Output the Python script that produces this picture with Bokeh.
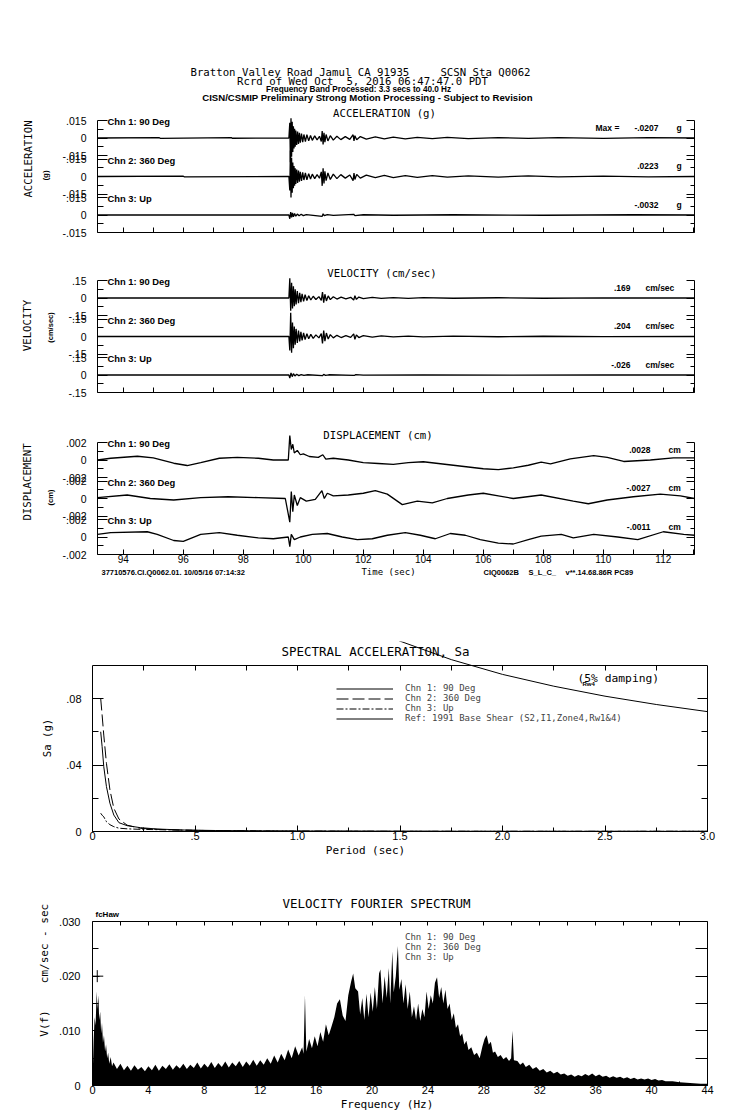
from math import pi
from bokeh.plotting import figure
from bokeh.models import Range1d, LinearAxis, FixedTicker, Label, Legend, LegendItem, ColumnDataSource
from bokeh.layouts import column, row
from bokeh.transform import dodge
from bokeh.embed import file_html
from bokeh.resources import INLINE

# ------------------------------------------------------------------ data
t_start, t_end = 93.14, 113.04
time_major = [94, 96, 98, 100, 102, 104, 106, 108, 110, 112]
time_minor = [93, 95, 97, 99, 101, 103, 105, 107, 109, 111, 113]

channel_names = ["Chn 1: 90 Deg", "Chn 2: 360 Deg", "Chn 3: Up"]
acc_peaks = ["-.0207", ".0223", "-.0032"]
vel_peaks = [".169", ".204", "-.026"]
disp_peaks = [".0028", "-.0027", "-.0011"]

# (time sec, acceleration g)
acc_chn1 = [(93.14, 0.0), (95.20, 0.0003), (95.23, -0.0003), (97.60, 0.0003), (97.63, -0.0002), (99.52, 0.0),
            (99.55, 0.013), (99.57, -0.0207), (99.59, 0.017), (99.61, -0.016), (99.63, 0.014), (99.65, -0.012),
            (99.67, 0.010), (99.69, -0.009), (99.71, 0.008), (99.73, -0.0075), (99.75, 0.0065), (99.78, -0.006),
            (99.81, 0.0055), (99.84, -0.005), (99.87, 0.0045), (99.90, -0.004), (99.94, 0.0038), (99.98, -0.0035),
            (100.02, 0.003), (100.07, -0.003), (100.12, 0.0028), (100.18, -0.0025), (100.24, 0.0022), (100.30, -0.002),
            (100.38, 0.0018), (100.46, -0.0016), (100.54, 0.0015), (100.60, -0.003), (100.63, 0.006), (100.66, -0.0055),
            (100.69, 0.0045), (100.72, -0.0035), (100.76, 0.003), (100.82, -0.0025), (100.90, 0.002), (101.00, -0.0018),
            (101.12, 0.0015), (101.25, -0.0014), (101.40, 0.0012), (101.55, -0.0012), (101.66, 0.0028), (101.69, -0.0025),
            (101.72, 0.002), (101.78, -0.0015), (101.90, 0.0012), (102.10, -0.001), (102.40, 0.0009), (102.70, -0.0008),
            (103.00, 0.0008), (103.40, -0.0007), (103.80, 0.0006), (104.30, -0.0006), (104.80, 0.0005), (105.50, -0.0005),
            (106.50, 0.0004), (107.50, -0.0004), (108.50, 0.0004), (110.00, -0.0003), (111.50, 0.0003), (113.04, 0.0)]
acc_chn2 = [(93.14, 0.0), (96.00, 0.0003), (96.03, -0.0003), (99.52, 0.0), (99.55, -0.012), (99.57, 0.0223),
            (99.59, -0.018), (99.61, 0.016), (99.63, -0.014), (99.65, 0.012), (99.67, -0.010), (99.69, 0.009),
            (99.71, -0.008), (99.73, 0.007), (99.75, -0.0065), (99.78, 0.006), (99.81, -0.0055), (99.84, 0.005),
            (99.87, -0.0045), (99.90, 0.004), (99.94, -0.0038), (99.98, 0.0035), (100.02, -0.003), (100.07, 0.003),
            (100.12, -0.0028), (100.18, 0.0025), (100.24, -0.0022), (100.30, 0.002), (100.38, -0.0018), (100.46, 0.0016),
            (100.54, -0.0015), (100.60, 0.004), (100.63, -0.008), (100.66, 0.007), (100.69, -0.006), (100.72, 0.0045),
            (100.76, -0.0035), (100.82, 0.003), (100.90, -0.0025), (101.00, 0.002), (101.12, -0.0018), (101.25, 0.0016),
            (101.40, -0.0014), (101.55, 0.0013), (101.66, -0.0035), (101.69, 0.003), (101.72, -0.0025), (101.78, 0.0018),
            (101.90, -0.0014), (102.10, 0.0012), (102.40, -0.001), (102.70, 0.001), (103.00, -0.0009), (103.40, 0.0008),
            (103.80, -0.0008), (104.30, 0.0007), (104.80, -0.0006), (105.50, 0.0006), (106.50, -0.0005), (107.50, 0.0005),
            (108.50, -0.0004), (110.00, 0.0004), (111.50, -0.0003), (113.04, 0.0)]
acc_chn3 = [(93.14, 0.0), (99.52, 0.0), (99.55, -0.0032), (99.58, 0.0025), (99.61, -0.002), (99.64, 0.0018),
            (99.67, -0.0015), (99.71, 0.0012), (99.75, -0.001), (99.80, 0.0008), (99.86, -0.0007), (99.93, 0.0006),
            (100.00, -0.0005), (100.10, 0.0004), (100.63, -0.0012), (100.66, 0.001), (100.70, -0.0006), (100.80, 0.0004),
            (101.00, -0.0003), (101.68, 0.0006), (101.72, -0.0005), (102.00, 0.0002), (103.00, -0.0002), (105.00, 0.0002),
            (108.00, -0.0002), (111.00, 0.0002), (113.04, 0.0)]

# (time sec, velocity cm/sec)
vel_chn1 = [(93.14, 0.0), (99.52, 0.0), (99.55, 0.169), (99.58, -0.11), (99.61, 0.13), (99.64, -0.09), (99.67, 0.10),
            (99.70, -0.07), (99.73, 0.075), (99.76, -0.055), (99.80, 0.06), (99.84, -0.045), (99.88, 0.045),
            (99.92, -0.035), (99.96, 0.035), (100.01, -0.028), (100.06, 0.028), (100.12, -0.022), (100.18, 0.02),
            (100.25, -0.017), (100.33, 0.015), (100.42, -0.013), (100.52, 0.012), (100.60, -0.02), (100.64, 0.05),
            (100.68, -0.04), (100.72, 0.032), (100.77, -0.025), (100.83, 0.018), (100.90, -0.014), (101.00, 0.011),
            (101.12, -0.009), (101.26, 0.008), (101.42, -0.007), (101.58, 0.006), (101.68, -0.018), (101.72, 0.02),
            (101.77, -0.012), (101.85, 0.008), (102.00, -0.006), (102.30, 0.005), (102.60, -0.004), (103.00, 0.004),
            (103.50, -0.003), (104.00, 0.003), (105.00, -0.002), (106.50, 0.002), (108.00, -0.002), (110.00, 0.001),
            (113.04, 0.0)]
vel_chn2 = [(93.14, 0.0), (99.52, 0.0), (99.55, -0.12), (99.58, 0.204), (99.61, -0.14), (99.64, 0.12), (99.67, -0.10),
            (99.70, 0.085), (99.73, -0.07), (99.76, 0.065), (99.80, -0.055), (99.84, 0.05), (99.88, -0.042),
            (99.92, 0.04), (99.96, -0.034), (100.01, 0.03), (100.06, -0.026), (100.12, 0.024), (100.18, -0.02),
            (100.25, 0.018), (100.33, -0.016), (100.42, 0.014), (100.52, -0.012), (100.60, 0.025), (100.64, -0.06),
            (100.68, 0.05), (100.72, -0.04), (100.77, 0.03), (100.83, -0.022), (100.90, 0.016), (101.00, -0.012),
            (101.12, 0.01), (101.26, -0.009), (101.42, 0.008), (101.58, -0.007), (101.68, 0.022), (101.72, -0.024),
            (101.77, 0.014), (101.85, -0.009), (102.00, 0.007), (102.30, -0.006), (102.60, 0.005), (103.00, -0.004),
            (103.50, 0.004), (104.00, -0.003), (105.00, 0.003), (106.50, -0.002), (108.00, 0.002), (110.00, -0.001),
            (113.04, 0.0)]
vel_chn3 = [(93.14, 0.0), (99.52, 0.0), (99.55, -0.026), (99.59, 0.018), (99.63, -0.014), (99.67, 0.011),
            (99.72, -0.008), (99.78, 0.006), (99.85, -0.005), (99.93, 0.004), (100.02, -0.003), (100.15, 0.002),
            (100.64, -0.006), (100.68, 0.005), (100.74, -0.003), (100.85, 0.002), (101.70, -0.004), (101.75, 0.003),
            (102.00, -0.001), (104.00, 0.001), (107.00, -0.001), (110.00, 0.001), (113.04, 0.0)]

# (time sec, displacement cm)
disp_chn1 = [(93.14, 0.0), (93.58, 0.0002), (94.47, 0.00043), (95.00, 0.00025), (95.68, -0.00037), (96.13, -0.00063),
             (96.58, -0.0003), (97.20, 0.0002), (97.80, 0.0003), (98.50, 0.0002), (99.00, 0.0), (99.50, 0.0),
             (99.55, 0.0028), (99.60, 0.0012), (99.65, 0.0018), (99.70, 0.0008), (99.80, 0.0011), (99.90, 0.0006),
             (100.00, 0.0007), (100.20, 0.0004), (100.50, 0.0003), (100.65, 0.0006), (100.75, 0.0001), (101.00, 0.0002),
             (101.50, 0.0), (102.00, -0.0003), (102.50, -0.0004), (103.00, -0.0005), (103.50, -0.0003), (104.00, -0.0002),
             (104.50, -0.0004), (105.00, -0.0006), (105.50, -0.0008), (106.00, -0.0010), (106.50, -0.0011),
             (107.00, -0.0009), (107.50, -0.0006), (107.93, -0.00025), (108.24, -0.00044), (108.90, 0.00014),
             (109.68, 0.0005), (110.13, 0.0003), (110.68, -0.00017), (111.57, 0.0), (112.34, 0.00025), (113.04, 0.00025)]
disp_chn2 = [(93.14, 0.0001), (94.13, 0.0004), (94.90, 0.0), (95.68, -0.00017), (96.58, 0.0001), (97.50, 0.0002),
             (98.50, 0.0001), (99.40, 0.0), (99.55, -0.0027), (99.60, 0.0008), (99.65, -0.0015), (99.70, 0.0004),
             (99.80, -0.0008), (99.90, 0.0001), (100.10, -0.0003), (100.40, -0.0001), (100.62, 0.0009), (100.70, 0.0),
             (100.80, 0.0006), (101.00, 0.0003), (101.50, 0.0004), (102.00, 0.0006), (102.40, 0.0009), (102.80, 0.0005),
             (103.30, -0.0007), (103.80, -0.0003), (104.30, -0.0005), (104.80, 0.0), (105.50, 0.0004), (106.00, 0.0006),
             (106.50, 0.0003), (107.00, 0.0), (107.93, 0.0004), (109.00, -0.0003), (109.50, -0.0006), (110.13, -0.00017),
             (111.00, 0.0002), (111.90, 0.0005), (112.57, 0.0003), (113.04, 0.0)]
disp_chn3 = [(93.14, 0.0003), (93.58, 0.0005), (94.80, 0.0006), (95.13, 0.0003), (95.68, -0.0004), (96.00, -0.0005),
             (96.58, 0.0003), (97.20, 0.0005), (97.80, 0.0002), (98.50, -0.0001), (99.00, -0.0002), (99.50, 0.0),
             (99.55, -0.0011), (99.60, 0.0003), (99.70, -0.0003), (99.90, 0.0), (100.30, 0.0003), (100.80, 0.0004),
             (101.30, 0.0), (101.80, -0.0003), (102.30, -0.0002), (102.80, 0.0002), (103.40, 0.0005), (103.90, 0.0002),
             (104.40, -0.0002), (104.90, 0.0004), (105.40, 0.0002), (105.90, -0.0003), (106.50, -0.0007),
             (107.00, -0.0008), (107.50, -0.0003), (107.93, 0.0001), (108.60, 0.0003), (109.00, -0.0001),
             (109.68, 0.0003), (110.48, 0.0), (111.15, -0.0003), (112.00, 0.0006), (112.68, 0.0003), (113.04, 0.0002)]

# spectral acceleration (period sec -> Sa g)
sa_period = [0.04, 0.047, 0.055, 0.068, 0.085, 0.104, 0.129, 0.169, 0.234, 0.315, 0.44, 0.60, 0.80, 1.0, 1.5, 2.0, 2.5, 3.0]
sa_chn1 = [0.060, 0.051, 0.039, 0.027, 0.017, 0.0099, 0.0053, 0.0035, 0.0023, 0.0015, 0.0009, 0.0006, 0.0004, 0.0003,
           0.0002, 0.0001, 0.0001, 0.0001]
sa_chn2 = [0.080, 0.070, 0.058, 0.041, 0.025, 0.014, 0.0075, 0.0038, 0.0019, 0.0013, 0.0008, 0.0005, 0.0003, 0.0002,
           0.0001, 0.0001, 0.0001, 0.0001]
sa_chn3 = [0.011, 0.0098, 0.0088, 0.0059, 0.0041, 0.0029, 0.0020, 0.0016, 0.0013, 0.0011, 0.0008, 0.0005, 0.0003,
           0.0002, 0.0001, 0.0001, 0.0001, 0.0001]
ref_period = [1.40, 1.50, 1.75, 2.00, 2.25, 2.50, 2.75, 3.00]
ref_sa = [0.1199, 0.1145, 0.1034, 0.0945, 0.0874, 0.0814, 0.0764, 0.0721]
sa_x_ticks = [0, 0.5, 1.0, 1.5, 2.0, 2.5, 3.0]
sa_x_labels = ["0", ".5", "1.0", "1.5", "2.0", "2.5", "3.0"]
sa_y_ticks = [0, 0.04, 0.08]
sa_y_labels = ["0", ".04", ".08"]

# velocity Fourier spectrum: upper envelope of the three overlapping channels (Hz, cm/sec-sec)
fourier_envelope = [
    (0.0, 0.0005), (0.08, 0.008), (0.15, 0.0125), (0.22, 0.0110), (0.3, 0.0172), (0.36, 0.0140), (0.42, 0.0165),
    (0.48, 0.0120), (0.55, 0.0135), (0.62, 0.0095), (0.68, 0.0115), (0.75, 0.0078), (0.82, 0.0092), (0.9, 0.0062),
    (0.97, 0.0075), (1.05, 0.0050), (1.12, 0.0060), (1.2, 0.0040), (1.3, 0.0052), (1.4, 0.0035),
    (1.50, 0.0042), (1.75, 0.0030), (2.00, 0.0040), (2.25, 0.0028), (2.50, 0.0036), (2.75, 0.0027), (3.00, 0.0037),
    (3.25, 0.0029), (3.50, 0.0034), (3.75, 0.0026), (4.00, 0.0035), (4.25, 0.0028), (4.50, 0.0038), (4.75, 0.0027),
    (5.00, 0.0036), (5.25, 0.0030), (5.50, 0.0039), (5.75, 0.0029), (6.00, 0.0037), (6.25, 0.0031), (6.50, 0.0040),
    (6.75, 0.0030), (7.00, 0.0038), (7.25, 0.0032), (7.50, 0.0042), (7.75, 0.0031), (8.00, 0.0040), (8.25, 0.0033),
    (8.50, 0.0043), (8.75, 0.0032), (9.00, 0.0041), (9.25, 0.0034), (9.50, 0.0044), (9.75, 0.0033), (10.0, 0.0042),
    (10.25, 0.0035), (10.5, 0.0045), (10.75, 0.0034), (11.0, 0.0044), (11.25, 0.0036), (11.5, 0.0047),
    (11.75, 0.0036), (12.0, 0.0046), (12.25, 0.0038), (12.5, 0.0050), (12.75, 0.0040), (13.0, 0.0055),
    (13.25, 0.0042), (13.5, 0.0058), (13.75, 0.0046), (14.0, 0.0066), (14.25, 0.0050), (14.5, 0.0072),
    (14.75, 0.0055), (15.0, 0.0070), (15.1, 0.0058), (15.2, 0.0165), (15.3, 0.0062), (15.5, 0.0085), (15.7, 0.0068),
    (15.9, 0.0090), (16.1, 0.0072), (16.3, 0.0098), (16.5, 0.0080), (16.7, 0.0112), (16.9, 0.0092), (17.1, 0.0108),
    (17.3, 0.0125), (17.5, 0.0150), (17.7, 0.0158), (17.9, 0.0128), (18.1, 0.0118), (18.3, 0.0165), (18.5, 0.0190),
    (18.65, 0.0205), (18.8, 0.0178), (19.0, 0.0172), (19.15, 0.0130), (19.3, 0.0160), (19.45, 0.0120),
    (19.6, 0.0168), (19.75, 0.0125), (19.9, 0.0170), (20.05, 0.0135), (20.2, 0.0180), (20.35, 0.0140),
    (20.5, 0.0205), (20.6, 0.0212), (20.75, 0.0150), (20.9, 0.0200), (21.05, 0.0160), (21.2, 0.0215),
    (21.3, 0.0150), (21.45, 0.0245), (21.55, 0.0170), (21.7, 0.0200), (21.85, 0.0255), (21.95, 0.0175),
    (22.1, 0.0195), (22.25, 0.0150), (22.4, 0.0185), (22.55, 0.0140), (22.7, 0.0172), (22.85, 0.0125),
    (23.0, 0.0145), (23.15, 0.0120), (23.3, 0.0150), (23.45, 0.0118), (23.6, 0.0140), (23.75, 0.0125),
    (23.9, 0.0172), (24.05, 0.0140), (24.2, 0.0165), (24.35, 0.0150), (24.5, 0.0188), (24.65, 0.0198),
    (24.8, 0.0160), (24.95, 0.0180), (25.1, 0.0150), (25.25, 0.0175), (25.4, 0.0140), (25.55, 0.0150),
    (25.7, 0.0120), (25.85, 0.0132), (26.0, 0.0105), (26.15, 0.0112), (26.3, 0.0090), (26.45, 0.0095),
    (26.6, 0.0075), (26.75, 0.0082), (26.9, 0.0065), (27.1, 0.0070), (27.3, 0.0056), (27.5, 0.0060),
    (27.7, 0.0050), (27.9, 0.0072), (28.05, 0.0085), (28.2, 0.0092), (28.35, 0.0075), (28.5, 0.0080),
    (28.65, 0.0060), (28.8, 0.0062), (29.0, 0.0052), (29.2, 0.0056), (29.4, 0.0048), (29.6, 0.0052),
    (29.8, 0.0045), (29.95, 0.0050), (30.05, 0.0100), (30.15, 0.0046), (30.4, 0.0045), (30.6, 0.0038),
    (30.8, 0.0042), (31.0, 0.0034), (31.25, 0.0038), (31.5, 0.0030), (31.75, 0.0034), (32.0, 0.0027),
    (32.25, 0.0030), (32.5, 0.0024), (32.75, 0.0027), (33.0, 0.0022), (33.25, 0.0025), (33.5, 0.0020),
    (33.75, 0.0022), (34.0, 0.0018), (34.25, 0.0020), (34.5, 0.0016), (34.75, 0.0019), (35.0, 0.0017),
    (35.25, 0.0021), (35.5, 0.0018), (35.75, 0.0022), (36.0, 0.0017), (36.25, 0.0020), (36.5, 0.0016),
    (36.75, 0.0018), (37.0, 0.0014), (37.25, 0.0017), (37.5, 0.0014), (37.75, 0.0016), (38.0, 0.0013),
    (38.25, 0.0015), (38.5, 0.0012), (38.75, 0.0014), (39.0, 0.0011), (39.25, 0.0013), (39.5, 0.0011),
    (39.75, 0.0013), (40.0, 0.0010), (40.25, 0.0012), (40.5, 0.0009), (40.75, 0.0010), (41.0, 0.0008),
    (41.5, 0.0008), (42.0, 0.0006), (42.5, 0.0005), (43.0, 0.0004), (43.5, 0.0003), (44.0, 0.0003)]
fc_marker_f = [0.34]
fc_marker_v = [0.020]
fs_x_major = [0, 4, 8, 12, 16, 20, 24, 28, 32, 36, 40, 44]
fs_x_minor = [2, 6, 10, 14, 18, 22, 26, 30, 34, 38, 42]
fs_y_ticks = [0, 0.01, 0.02, 0.03]
fs_y_labels = ["0", ".010", ".020", ".030"]
fs_y_minor = [0.005, 0.015, 0.025]

# ------------------------------------------------------------------ helpers
PAGE_W = 737
STRIP_W = 58
FIG_W = PAGE_W - STRIP_W
MONO = "DejaVu Sans Mono"
SANS = "Liberation Sans"
TRACE_W = 1.3


def lab(p, m, x, y, text, size, font=MONO, style="normal", align="left", baseline="middle", angle=0.0):
    """x, y: page pixel positions, converted to frame-relative screen units."""
    p.add_layout(Label(x=x - m["left"], y=m["bottom"] - y, x_units="screen", y_units="screen", text=text,
                       text_font=font, text_font_size=size, text_font_style=style, text_align=align,
                       text_baseline=baseline, angle=angle, text_color="black"))


def strip(left, top, w, h, tb=0, bb=0):
    """text-only panel; tb/bb match the borders of the plot it sits next to in a row."""
    p = figure(width=w, height=h, x_range=Range1d(0, w), y_range=Range1d(0, h - tb - bb), output_backend="svg",
               toolbar_location=None, min_border_left=0, min_border_right=0, min_border_top=tb,
               min_border_bottom=bb, x_axis_location=None, y_axis_location=None)
    p.outline_line_color = None
    p.grid.visible = False
    return p, {"left": left, "bottom": top + h - bb}


def style_axis(ax, tick_in, minor_in, labels=True, size="10.5px", standoff=11):
    ax.major_tick_in = tick_in
    ax.major_tick_out = 0
    ax.minor_tick_in = minor_in
    ax.minor_tick_out = 0
    ax.axis_line_color = "black"
    ax.major_tick_line_color = "black"
    ax.minor_tick_line_color = "black"
    ax.major_label_text_font = SANS
    if labels:
        ax.major_label_standoff = standoff
        ax.major_label_text_font_size = size
        ax.major_label_text_color = "black"
    else:
        ax.major_label_standoff = 0
        ax.major_label_text_font_size = "1px"
        ax.major_label_text_color = None


def series_fig(top, ch1_top, bot_b, half, tick_txt, traces, show_time_labels):
    """three stacked channels sharing one frame; frame starts at the section top."""
    k = half / 17.5                      # data units per pixel
    offs = [0.0, -38.5 * k, -77.0 * k]   # channel zero lines
    lo = offs[2] - half
    hi = half + (ch1_top - top) * k
    height = (ch1_top + 112 - top) + bot_b
    p = figure(width=FIG_W, height=height, x_range=Range1d(t_start, t_end), y_range=Range1d(lo, hi),
               output_backend="svg", toolbar_location=None, min_border_left=97 - STRIP_W,
               min_border_right=PAGE_W - 694, min_border_top=0, min_border_bottom=bot_b,
               x_axis_location="below", y_axis_location=None)
    p.outline_line_color = None
    p.grid.visible = False
    m = {"left": 97, "bottom": top + height - bot_b}
    ticks, minor, over = [], [], {}
    for o in offs:
        ticks += [o + half, o, o - half]
        minor += [o + half / 2, o - half / 2]
        over[o + half] = tick_txt[0]
        over[o] = "0"
        over[o - half] = tick_txt[1]
    la = LinearAxis(bounds=(lo, half), ticker=FixedTicker(ticks=ticks, minor_ticks=minor),
                    major_label_overrides=over)
    style_axis(la, 10, 6)
    p.add_layout(la, "left")
    ra = LinearAxis(bounds=(lo, half), ticker=FixedTicker(ticks=ticks, minor_ticks=minor))
    style_axis(ra, 8, 4, labels=False)
    p.add_layout(ra, "right")
    xa = p.xaxis[0]
    xa.ticker = FixedTicker(ticks=time_major, minor_ticks=time_minor)
    style_axis(xa, 5, 5, labels=show_time_labels, size="10px", standoff=0)
    for o, data in zip(offs, traces):
        src = ColumnDataSource(dict(t=[a for a, b in data], v=[b for a, b in data]))
        p.line("t", dodge("v", o), source=src, line_color="black", line_width=TRACE_W)
    zeros = [ch1_top + 17.5 + 38.5 * i for i in range(3)]
    for i, name in enumerate(channel_names):
        lab(p, m, 107, zeros[i] - 16.5, name, "9.4px", SANS, "bold")
    return p, m, zeros, height


# ------------------------------------------------------------------ acceleration (page y 0-254)
ACC_BB = 22
acc, am, az, acc_h = series_fig(0, 120, ACC_BB, 0.015, (".015", "-.015"), [acc_chn1, acc_chn2, acc_chn3], False)
lab(acc, am, 190, 71.7, "Bratton Valley Road Jamul CA 91935", "10.7px")
lab(acc, am, 530, 71.7, "SCSN Sta Q0062", "10.7px", align="right")
lab(acc, am, 362, 80.7, "Rcrd of Wed Oct\u00a0 5, 2016 06:47:47.0 PDT", "10.7px", align="center")
lab(acc, am, 358, 89.3, "Frequency Band Processed: 3.3 secs to 40.0 Hz", "8.2px", SANS, "bold", align="center")
lab(acc, am, 367, 97.0, "CISN/CSMIP Preliminary Strong Motion Processing - Subject to Revision", "9.6px", SANS,
    "bold", align="center")
lab(acc, am, 384, 113, "ACCELERATION (g)", "10.7px", align="center")
lab(acc, am, 595, az[0] - 10.5, "Max =", "8.5px", SANS, "bold")
for i in range(3):
    lab(acc, am, 658, az[i] - 10.5, acc_peaks[i], "8.5px", SANS, "bold", align="right")
    lab(acc, am, 676, az[i] - 10.5, "g", "8.5px", SANS, "bold")
acc_side, asm = strip(0, 0, STRIP_W, acc_h, 0, ACC_BB)
lab(acc_side, asm, 28, 158.5, "ACCELERATION", "10.7px", align="center", angle=pi / 2)
lab(acc_side, asm, 45, 175, "(g)", "8px", SANS, "bold", align="center", angle=pi / 2)

# ------------------------------------------------------------------ velocity (page y 254-415)
VEL_BB = 23
vel, vm, vz, vel_h = series_fig(254, 280, VEL_BB, 0.15, (".15", "-.15"), [vel_chn1, vel_chn2, vel_chn3], False)
lab(vel, vm, 381.5, 273, "VELOCITY (cm/sec)", "10.7px", align="center")
for i in range(3):
    lab(vel, vm, 630, vz[i] - 10.5, vel_peaks[i], "8.5px", SANS, "bold", align="right")
    lab(vel, vm, 645, vz[i] - 10.5, "cm/sec", "8.5px", SANS, "bold")
vel_side, vsm = strip(0, 254, STRIP_W, vel_h, 0, VEL_BB)
lab(vel_side, vsm, 27, 325, "VELOCITY", "10.7px", align="center", angle=pi / 2)
lab(vel_side, vsm, 50, 327, "(cm/sec)", "7.5px", SANS, "bold", align="center", angle=pi / 2)

# ------------------------------------------------------------------ displacement (page y 415-566)
DSP_BB = 12
dsp, dm, dz, dsp_h = series_fig(415, 442, DSP_BB, 0.002, (".002", "-.002"), [disp_chn1, disp_chn2, disp_chn3], True)
lab(dsp, dm, 377.5, 435, "DISPLACEMENT (cm)", "10.7px", align="center")
for i in range(3):
    lab(dsp, dm, 650, dz[i] - 10.5, disp_peaks[i], "8.5px", SANS, "bold", align="right")
    lab(dsp, dm, 668, dz[i] - 10.5, "cm", "8.5px", SANS, "bold")
dsp_side, dsm = strip(0, 415, STRIP_W, dsp_h, 0, DSP_BB)
lab(dsp_side, dsm, 27, 481.5, "DISPLACEMENT", "10.7px", align="center", angle=pi / 2)
lab(dsp_side, dsm, 49.5, 497, "(cm)", "7.5px", SANS, "bold", align="center", angle=pi / 2)

# footer line under the time axis (page y 566-580)
foot, fom = strip(0, 566, PAGE_W, 14)
lab(foot, fom, 101, 572, "37710576.CI.Q0062.01. 10/05/16 07:14:32", "7.5px", SANS, "bold")
lab(foot, fom, 388, 571, "Time (sec)", "9px", align="center")
lab(foot, fom, 483, 572, "CIQ0062B", "7.5px", SANS, "bold")
lab(foot, fom, 528, 572, "S_L_C_", "7.5px", SANS, "bold")
lab(foot, fom, 565, 572, "v**.14.68.86R PC89", "7.5px", SANS, "bold")

# ------------------------------------------------------------------ spectral acceleration (page y 580-843)
SA_TOP, SA_TB, SA_FH, SA_BB = 580, 61, 190, 12
SA_H = SA_TB + SA_FH + SA_BB
sa_y_end = SA_FH / 1662.5
sa = figure(width=FIG_W, height=SA_H, x_range=Range1d(0, 3.0), y_range=Range1d(0, sa_y_end), output_backend="svg",
            toolbar_location=None, min_border_left=92 - STRIP_W, min_border_right=PAGE_W - 707,
            min_border_top=SA_TB, min_border_bottom=SA_BB, x_axis_location="below", y_axis_location=None)
sa.outline_line_color = None
sa.grid.visible = False
sm = {"left": 92, "bottom": SA_TOP + SA_TB + SA_FH}
sx = sa.xaxis[0]
sx.ticker = FixedTicker(ticks=sa_x_ticks, minor_ticks=[0.25, 0.75, 1.25, 1.75, 2.25, 2.75])
sx.major_label_overrides = dict(zip(sa_x_ticks, sa_x_labels))
style_axis(sx, 6, 4, size="11px", standoff=0)
sl = LinearAxis(bounds=(0, 0.1), ticker=FixedTicker(ticks=sa_y_ticks, minor_ticks=[0.02, 0.06]),
                major_label_overrides=dict(zip(sa_y_ticks, sa_y_labels)))
style_axis(sl, 11, 6, size="11px", standoff=11)
sa.add_layout(sl, "left")
sr = LinearAxis(bounds=(0, 0.1), ticker=FixedTicker(ticks=sa_y_ticks, minor_ticks=[0.02, 0.06]))
style_axis(sr, 10, 6, labels=False)
sa.add_layout(sr, "right")
stp = LinearAxis(fixed_location=0.1, ticker=FixedTicker(ticks=[0, 0.25, 0.5, 0.75, 1.0, 1.25, 1.5, 1.75, 2.0, 2.25,
                                                                2.5, 2.75, 3.0], minor_ticks=[]))
style_axis(stp, 5, 0, labels=False)
sa.add_layout(stp, "above")
r1 = sa.line(sa_period, sa_chn1, line_color="black", line_width=1)
r2 = sa.line(sa_period, sa_chn2, line_color="black", line_width=1, line_dash="12 4")
r3 = sa.line(sa_period, sa_chn3, line_color="black", line_width=1, line_dash="7 2 2 2")
r4 = sa.line(ref_period, ref_sa, line_color="black", line_width=1)
sleg = Legend(items=[LegendItem(label="Chn 1: 90 Deg", renderers=[r1]),
                     LegendItem(label="Chn 2: 360 Deg", renderers=[r2]),
                     LegendItem(label="Chn 3: Up", renderers=[r3]),
                     LegendItem(label="Ref: 1991 Base Shear (S2,I1,Zone4,Rw1&4)", renderers=[r4])],
              location=(244, 108), glyph_width=57, glyph_height=7, label_height=7, label_standoff=12, spacing=0,
              padding=0, margin=0, border_line_color=None, background_fill_alpha=0, label_text_font=MONO,
              label_text_font_size="9px")
sa.add_layout(sleg)
lab(sa, sm, 375, 651, "SPECTRAL ACCELERATION, Sa", "12.5px", align="center")
lab(sa, sm, 577, 678, "(5% damping)", "11.3px")
lab(sa, sm, 582, 683, "Rw4", "6px", SANS, "bold")
sa_side, ssm = strip(0, SA_TOP, STRIP_W, SA_H, SA_TB, SA_BB)
lab(sa_side, ssm, 47, 737.5, "Sa (g)", "10.7px", align="center", angle=pi / 2)

# strip between the two spectra (page y 843-890)
mid, mim = strip(0, 843, PAGE_W, 47)
lab(mid, mim, 365, 850, "Period (sec)", "11px", align="center")

# ------------------------------------------------------------------ velocity Fourier spectrum (page y 890-1098)
FS_STRIP_W = 52
FS_TOP, FS_TB, FS_FH, FS_BB = 890, 4, 191, 13
FS_H = FS_TB + FS_FH + FS_BB
fs_px = 164 / 0.030
fs = figure(width=PAGE_W - FS_STRIP_W, height=FS_H, x_range=Range1d(0, 44), y_range=Range1d(0, FS_FH / fs_px),
            output_backend="svg", toolbar_location=None, min_border_left=92 - FS_STRIP_W,
            min_border_right=PAGE_W - 707, min_border_top=FS_TB, min_border_bottom=FS_BB,
            x_axis_location="below", y_axis_location=None)
fs.outline_line_color = None
fs.grid.visible = False
fm = {"left": 92, "bottom": FS_TOP + FS_TB + FS_FH}
fx = fs.xaxis[0]
fx.ticker = FixedTicker(ticks=fs_x_major, minor_ticks=fs_x_minor)
style_axis(fx, 4, 4, size="11px", standoff=0)
fl = LinearAxis(bounds=(0, 0.030), ticker=FixedTicker(ticks=fs_y_ticks, minor_ticks=fs_y_minor),
                major_label_overrides=dict(zip(fs_y_ticks, fs_y_labels)))
style_axis(fl, 7, 6, size="11px", standoff=12)
fs.add_layout(fl, "left")
fr = LinearAxis(bounds=(0, 0.030), ticker=FixedTicker(ticks=fs_y_ticks, minor_ticks=fs_y_minor))
style_axis(fr, 12, 12, labels=False)
fs.add_layout(fr, "right")
ft = LinearAxis(fixed_location=0.030, ticker=FixedTicker(ticks=fs_x_major + fs_x_minor, minor_ticks=[]))
style_axis(ft, 4, 0, labels=False)
fs.add_layout(ft, "above")
fs.varea(x=[a for a, b in fourier_envelope], y1=0, y2=[b for a, b in fourier_envelope], fill_color="black")
fs.scatter(fc_marker_f, fc_marker_v, marker="cross", size=12, line_color="black", line_width=1)
g1 = fs.line(x=[], y=[], line_color="black", line_width=1)
g2 = fs.line(x=[], y=[], line_color="black", line_width=1, line_dash="12 4")
g3 = fs.line(x=[], y=[], line_color="black", line_width=1, line_dash="7 2 2 2")
fleg = Legend(items=[LegendItem(label="Chn 1: 90 Deg", renderers=[g1]),
                     LegendItem(label="Chn 2: 360 Deg", renderers=[g2]),
                     LegendItem(label="Chn 3: Up", renderers=[g3])],
              location=(244, 123), glyph_width=57, glyph_height=7, label_height=7, label_standoff=12, spacing=0,
              padding=0, margin=0, border_line_color=None, background_fill_alpha=0, label_text_font=MONO,
              label_text_font_size="9px")
fs.add_layout(fleg)
lab(fs, fm, 376, 903, "VELOCITY FOURIER SPECTRUM", "12.5px", align="center")
lab(fs, fm, 95, 914, "fcHaw", "8px", SANS, "bold")
fs_side, fsm = strip(0, FS_TOP, FS_STRIP_W, FS_H, FS_TB, FS_BB)
lab(fs_side, fsm, 44, 1023, "V(f)", "11px", align="center", angle=pi / 2)
lab(fs_side, fsm, 44, 943, "cm/sec - sec", "11px", align="center", angle=pi / 2)

# bottom strip (page y 1098-1113)
bot, bom = strip(0, 1098, PAGE_W, 15)
lab(bot, bom, 386.5, 1104, "Frequency (Hz)", "11px", align="center")

layout = column(
    row(acc_side, acc, spacing=0),
    row(vel_side, vel, spacing=0),
    row(dsp_side, dsp, spacing=0),
    foot,
    row(sa_side, sa, spacing=0),
    mid,
    row(fs_side, fs, spacing=0),
    bot,
    spacing=0,
)
open("out.html", "w").write(file_html(layout, INLINE))
